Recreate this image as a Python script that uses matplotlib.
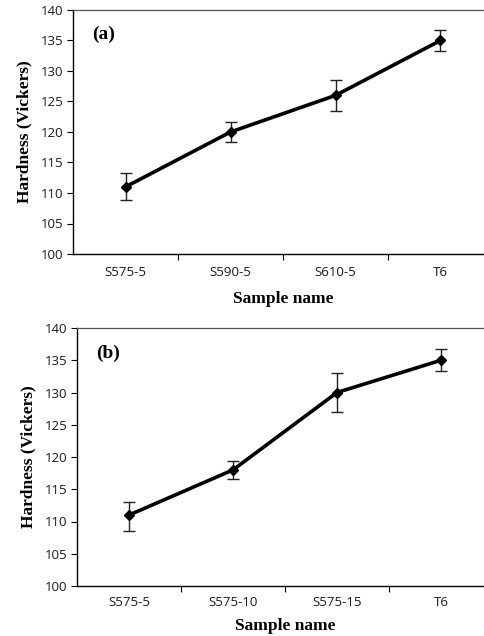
import matplotlib.pyplot as plt

# hardness values
samples_a = ["S575-5", "S590-5", "S610-5", "T6"]
hardness_a = [111, 120, 126, 135]
err_low_a = [2.2, 1.6, 2.6, 1.7]
err_high_a = [2.2, 1.7, 2.5, 1.7]

samples_b = ["S575-5", "S575-10", "S575-15", "T6"]
hardness_b = [111, 118, 130, 135]
err_low_b = [2.4, 1.4, 3.1, 1.6]
err_high_b = [2.1, 1.4, 3.1, 1.7]

W, H = 484, 636
fig = plt.figure(figsize=(W / 100, H / 100), dpi=100)


def panel(rect, names, vals, lo, hi, tag, tpad, lpad):
    ax = fig.add_axes(rect)
    x = list(range(len(names)))
    ax.errorbar(x, vals, yerr=[lo, hi], color="black", lw=2.6, marker="D",
                ms=5.5, ecolor="#222222", elinewidth=1.0, capsize=4, capthick=1.0)
    ax.set_xlim(-0.5, len(names) - 0.5)
    ax.set_ylim(100, 140)
    ax.set_yticks(range(100, 141, 5))
    ax.set_xticks([i + 0.5 for i in range(len(names) - 1)], minor=False)
    ax.set_xticklabels([])
    ax.set_xticks(x, minor=True)
    ax.set_xticklabels(names, minor=True)
    ax.tick_params(axis="x", which="minor", length=0, pad=tpad)
    ax.tick_params(axis="x", which="major", length=4, direction="out")
    ax.tick_params(axis="y", length=4, direction="out", pad=3)
    for lab in ax.get_xticklabels(minor=True) + ax.get_yticklabels():
        lab.set_family("Open Sans")
        lab.set_fontsize(9.5)
        lab.set_color("#1a1a1a")
    ax.spines["right"].set_visible(False)
    ax.spines["top"].set_color("#555555")
    ax.spines["top"].set_linewidth(0.9)
    ax.spines["left"].set_linewidth(1.0)
    ax.spines["bottom"].set_linewidth(1.0)
    ax.set_ylabel("Hardness (Vickers)", family="Liberation Serif",
                  fontweight="bold", fontsize=12.5, labelpad=6)
    ax.set_xlabel("Sample name", family="Liberation Serif",
                  fontweight="bold", fontsize=12.5, labelpad=lpad)
    ax.text(0.045, 0.9, tag, transform=ax.transAxes, family="Liberation Serif",
            fontweight="bold", fontsize=14, va="center", ha="left")
    return ax


# axes extend past the right edge, as in the cropped original
panel([73 / W, 1 - 254 / H, 420 / W, 244 / H], samples_a, hardness_a,
      err_low_a, err_high_a, "(a)", 9, 8)
panel([77 / W, 1 - 586 / H, 416 / W, 258 / H], samples_b, hardness_b,
      err_low_b, err_high_b, "(b)", 7, 7)

fig.savefig("out.png", dpi=100)
